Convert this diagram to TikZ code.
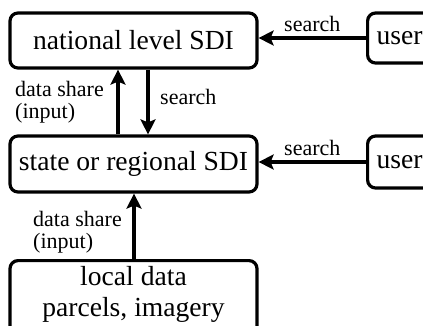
\documentclass[tikz,border=0pt]{standalone}
\usepackage{fontspec}
\setmainfont{Liberation Serif}
\usetikzlibrary{arrows.meta}
\begin{document}
\begin{tikzpicture}[x=1pt,y=1pt,
  box/.style={draw, line width=3.2pt, rounded corners=8pt, inner sep=0pt},
  big/.style={font=\fontsize{27.6}{31}\selectfont},
  lbl/.style={font=\fontsize{22}{22}\selectfont, inner sep=0pt},
  conn/.style={line width=3.2pt, -{Stealth[length=15pt,width=15pt,inset=3pt]}}]
\useasboundingbox (0,0) rectangle (423,-325);
\clip (0,0) rectangle (423,-325);
% boxes
\node[box, big, minimum width=247, minimum height=55] (nat) at (133.5,-40.5) {national level SDI};
\node[box, big, minimum width=247, minimum height=56] (state) at (133.5,-164) {state or regional SDI};
\node[box, minimum width=247, minimum height=85, anchor=north] (local) at (133.5,-259) {};
\node[big, align=center, inner sep=0pt] (localtxt) at (133.5,-294) {local data\\parcels, imagery};
\node[box, big, anchor=west, text width=62, align=left, inner xsep=9, minimum height=50] (user1) at (366,-38) {user};
\node[box, big, anchor=west, text width=62, align=left, inner xsep=9, minimum height=52] (user2) at (366,-162) {user};
% connectors
\draw[conn] (user1.west) -- node[lbl, above=5pt] (s1) {search} (nat.east |- user1.west);
\draw[conn] (user2.west) -- node[lbl, above=5pt] (s2) {search} (state.east |- user2.west);
\coordinate (upA) at (118,0);
\coordinate (dnA) at (148,0);
\coordinate (upB) at (134,0);
\draw[conn] (state.north -| upA) -- (nat.south -| upA);
\draw[conn] (nat.south -| dnA) -- (state.north -| dnA);
\draw[conn] (local.north -| upB) -- (state.south -| upB);
\node[lbl, align=left, anchor=west] (ds1) at (15,-102) {data share\\(input)};
\node[lbl, anchor=west] (s3) at (160,-97) {search};
\node[lbl, align=left, anchor=west] (ds2) at (33,-232) {data share\\(input)};
\end{tikzpicture}
\end{document}
